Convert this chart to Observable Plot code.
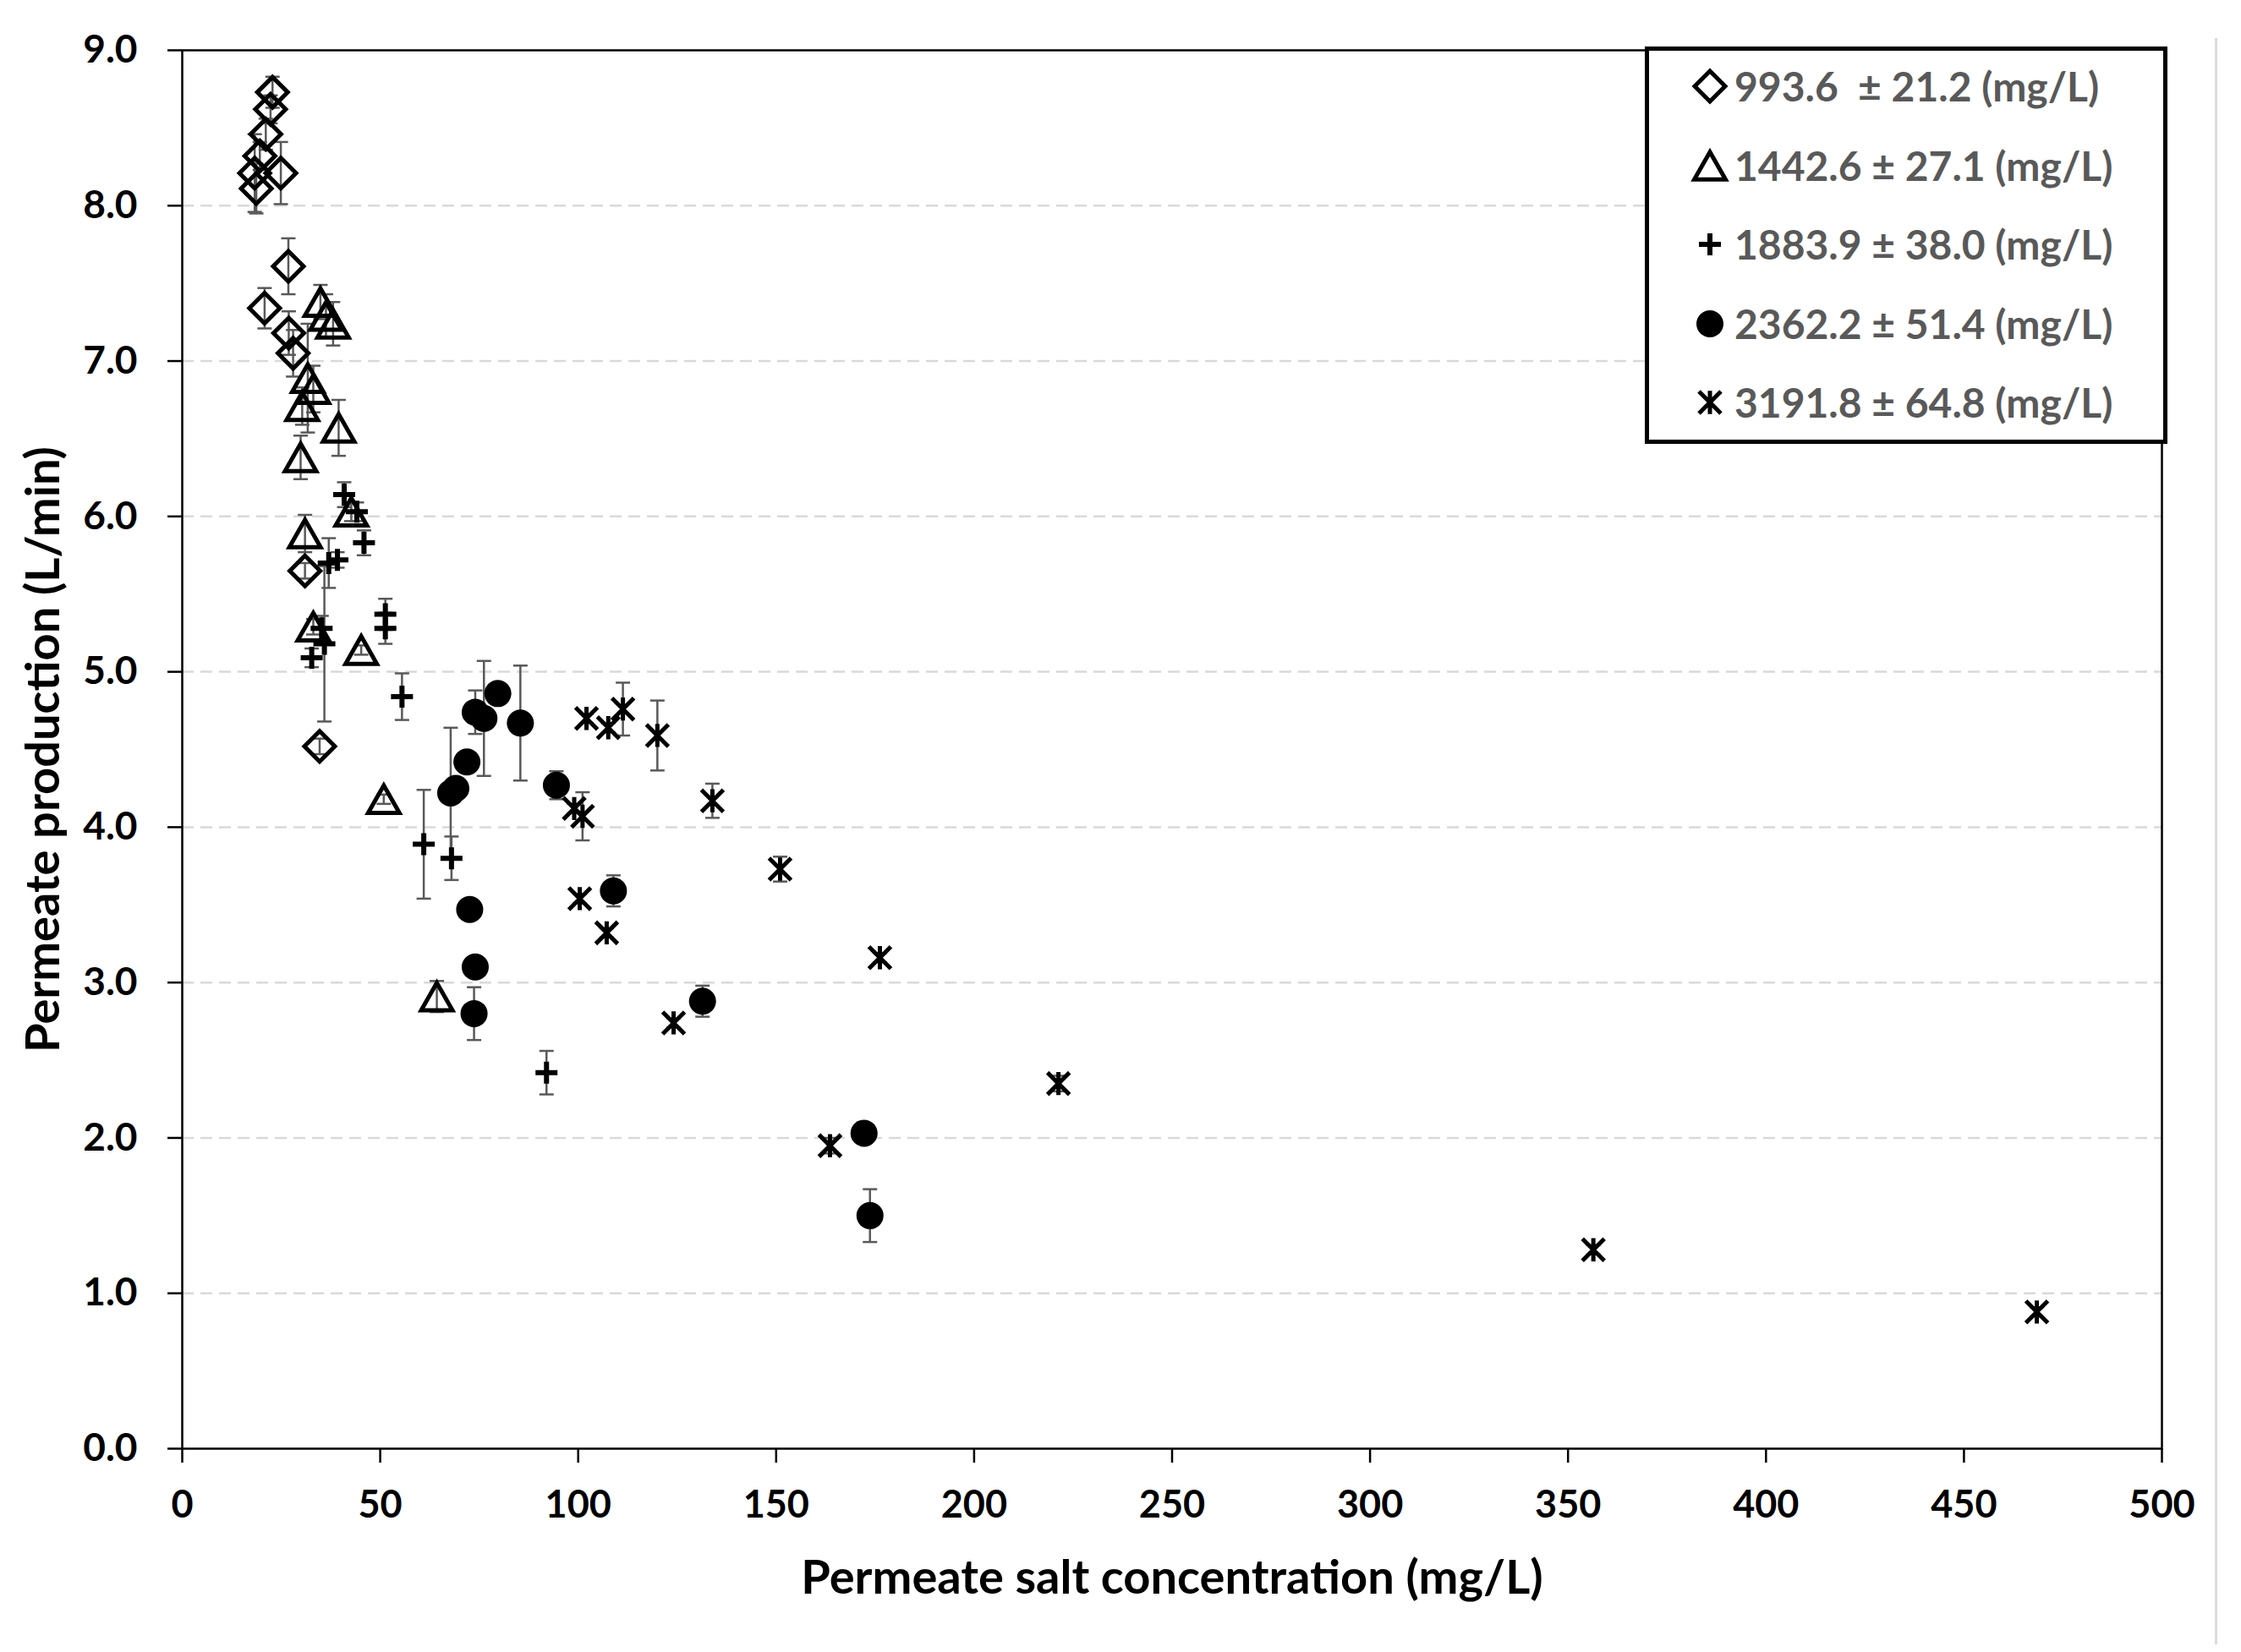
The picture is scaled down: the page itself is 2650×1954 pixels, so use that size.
<!DOCTYPE html>
<html><head><meta charset="utf-8">
<script src="https://cdn.jsdelivr.net/npm/d3@7"></script>
<script src="https://cdn.jsdelivr.net/npm/@observablehq/plot@0.6"></script>
<style>
body{margin:0;background:#fff;}
#wrap{position:relative;width:2650px;height:1954px;background:#fff;font-family:Lato,sans-serif;}
#edge{position:absolute;left:2619px;top:45px;width:3px;height:1900px;background:#dcdcdc;}
#legend{position:absolute;left:1945px;top:55px;width:618px;height:470px;box-sizing:border-box;border:5px solid #000;background:#fff;}
.row{position:absolute;left:0;height:60px;}
.row svg{position:absolute;left:50px;top:8px;overflow:visible;}
.row span{position:absolute;left:101px;top:0;line-height:60px;font-family:Lato,sans-serif;font-weight:bold;font-size:48px;color:#595959;white-space:pre;}
svg [aria-label="x-axis label"] text, svg [aria-label="y-axis label"] text{font-size:56px;}
</style></head>
<body><div id="wrap"><div id="edge"></div></div>
<script>
// ---- data ----
const seriesLabels = ["993.6  \u00b1 21.2 (mg/L)", "1442.6 \u00b1 27.1 (mg/L)", "1883.9 \u00b1 38.0 (mg/L)", "2362.2 \u00b1 51.4 (mg/L)", "3191.8 \u00b1 64.8 (mg/L)"];
const xTicks = [0, 50, 100, 150, 200, 250, 300, 350, 400, 450, 500];
const yTicks = [0, 1, 2, 3, 4, 5, 6, 7, 8, 9];

const diamondX   = [22.8, 22.3, 21.1, 19.6, 18.3, 18.7, 24.9, 26.8, 20.8, 26.9, 28.0, 31.0, 34.7];
const diamondY   = [8.73, 8.62, 8.46, 8.32, 8.21, 8.11, 8.21, 7.61, 7.34, 7.18, 7.05, 5.65, 4.52];
const diamondErr = [0.10, 0.09, 0.10, 0.09, 0.25, 0.16, 0.20, 0.18, 0.13, 0.14, 0.15, 0.05, 0.05];

const triangleX   = [34.9, 36.3, 38.1, 31.7, 33.1, 30.3, 29.9, 39.5, 31.0, 42.7, 33.1, 45.2, 50.9, 64.3];
const triangleY   = [7.38, 7.29, 7.24, 6.89, 6.82, 6.71, 6.38, 6.57, 5.89, 6.03, 5.29, 5.14, 4.18, 2.91];
const triangleErr = [0.11, 0.14, 0.14, 0.35, 0.15, 0.12, 0.14, 0.18, 0.12, 0.06, 0.05, 0.03, 0.03, 0.10];

const plusX   = [40.9, 44.1, 45.9, 37.0, 39.2, 51.3, 51.3, 35.2, 35.9, 32.7, 55.5, 61.0, 68.0, 92.0];
const plusY   = [6.14, 6.03, 5.83, 5.70, 5.72, 5.37, 5.28, 5.28, 5.18, 5.09, 4.84, 3.89, 3.80, 2.42];
const plusErr = [0.08, 0.06, 0.08, 0.16, 0.05, 0.10, 0.10, 0.08, 0.50, 0.06, 0.15, 0.35, 0.14, 0.14];

const circleX   = [79.7, 74.0, 76.2, 85.4, 71.9, 69.1, 67.8, 94.5, 72.6, 74.0, 73.7, 108.9, 131.4, 172.2, 173.7];
const circleY   = [4.86, 4.74, 4.70, 4.67, 4.42, 4.25, 4.22, 4.27, 3.47, 3.10, 2.80, 3.59, 2.88, 2.03, 1.50];
const circleErr = [0.05, 0.14, 0.37, 0.37, 0.05, 0.05, 0.42, 0.09, 0.03, 0.03, 0.17, 0.10, 0.10, 0.04, 0.17];

const starX   = [102.1, 107.6, 111.3, 120.0, 99.0, 101.1, 133.9, 151.0, 100.4, 107.2, 176.2, 124.1, 163.6, 221.3, 356.4, 468.4];
const starY   = [4.70, 4.64, 4.76, 4.59, 4.12, 4.07, 4.17, 3.73, 3.54, 3.32, 3.16, 2.74, 1.95, 2.35, 1.28, 0.88];
const starErr = [0.03, 0.03, 0.17, 0.225, 0.03, 0.155, 0.11, 0.08, 0.03, 0.03, 0.03, 0.03, 0.05, 0.05, 0.03, 0.03];

// ---- symbols ----
const shapes = {
  diamond: (c, r) => { c.moveTo(0, -r); c.lineTo(r, 0); c.lineTo(0, r); c.lineTo(-r, 0); c.closePath(); },
  triangle: (c, r) => { const h = r * 0.88; c.moveTo(0, -h); c.lineTo(r, h); c.lineTo(-r, h); c.closePath(); },
  plus: (c, r) => { c.moveTo(-r, 0); c.lineTo(r, 0); c.moveTo(0, -r); c.lineTo(0, r); },
  star: (c, r) => { c.moveTo(-r, -r); c.lineTo(r, r); c.moveTo(-r, r); c.lineTo(r, -r); c.moveTo(0, -r * 1.05); c.lineTo(0, r * 1.05); },
  cap: (c, r) => { c.moveTo(-r, 0); c.lineTo(r, 0); }
};
const asSymbol = f => ({draw(ctx, size) { f(ctx, Math.sqrt(size / Math.PI)); }});

const series = [
  {key: "diamond", xs: diamondX, ys: diamondY, es: diamondErr, r: 18, sw: 5, filled: false},
  {key: "triangle", xs: triangleX, ys: triangleY, es: triangleErr, r: 18.5, sw: 5, filled: false},
  {key: "plus", xs: plusX, ys: plusY, es: plusErr, r: 13, sw: 6, filled: false},
  {key: "circle", xs: circleX, ys: circleY, es: circleErr, r: 16, sw: 0, filled: true},
  {key: "star", xs: starX, ys: starY, es: starErr, r: 13, sw: 5, filled: false}
];
const rows = series.flatMap((s, i) => s.xs.map((x, j) => ({x, y: s.ys[j], err: s.es[j], series: i})));

const capSym = asSymbol(shapes.cap);
const errStroke = "#595959";

const markMarks = series.map((s, i) => s.filled
  ? Plot.dot(rows.filter(d => d.series === i), {x: "x", y: "y", r: s.r, fill: "black", stroke: "none"})
  : Plot.dot(rows.filter(d => d.series === i), {x: "x", y: "y", r: s.r, symbol: asSymbol(shapes[s.key]), fill: "none", stroke: "black", strokeWidth: s.sw, strokeLinejoin: "miter", strokeLinecap: "butt"})
);

const chart = Plot.plot({
  width: 2650, height: 1954,
  marginLeft: 215, marginRight: 94, marginTop: 59, marginBottom: 241,
  style: {fontFamily: "Lato, sans-serif", fontSize: "44px", fontWeight: "bold", color: "black", background: "transparent"},
  x: {domain: [0, 500]},
  y: {domain: [0, 9]},
  marks: [
    Plot.gridY(yTicks.filter(d => d > 0 && d < 9), {stroke: "#d9d9d9", strokeOpacity: 1, strokeWidth: 2.5, strokeDasharray: "14,8"}),
    Plot.frame({stroke: "black", strokeWidth: 2.5}),
    Plot.axisX(xTicks, {tickSize: 17, tickPadding: 33, strokeWidth: 2.5, tickFormat: d => String(d), fontSize: 45,
      label: "Permeate salt concentration (mg/L)", labelAnchor: "center", labelOffset: 171, labelArrow: "none"}),
    Plot.axisY(yTicks, {tickSize: 17, tickPadding: 36, strokeWidth: 2.5, tickFormat: d3.format(".1f"), fontSize: 46,
      label: "Permeate production (L/min)", labelAnchor: "center", labelOffset: 185, labelArrow: "none"}),
    Plot.ruleX(rows, {x: "x", y1: d => d.y - d.err, y2: d => d.y + d.err, stroke: errStroke, strokeWidth: 2.5}),
    Plot.dot(rows, {x: "x", y: d => d.y + d.err, symbol: capSym, r: 8.5, stroke: errStroke, strokeWidth: 2.5, fill: "none"}),
    Plot.dot(rows, {x: "x", y: d => d.y - d.err, symbol: capSym, r: 8.5, stroke: errStroke, strokeWidth: 2.5, fill: "none"}),
    ...markMarks
  ]
});
const wrap = document.getElementById("wrap");
chart.style.position = "absolute";
chart.style.left = "0";
chart.style.top = "0";
wrap.appendChild(chart);

// ---- legend ----
const legend = document.createElement("div");
legend.id = "legend";
series.forEach((s, i) => {
  const row = document.createElement("div");
  row.className = "row";
  row.style.top = (12 + i * 93.5) + "px";
  const ns = "http://www.w3.org/2000/svg";
  const svg = document.createElementNS(ns, "svg");
  svg.setAttribute("width", 44); svg.setAttribute("height", 44);
  svg.setAttribute("viewBox", "-22 -22 44 44");
  if (s.filled) {
    const c = document.createElementNS(ns, "circle");
    c.setAttribute("r", s.r); c.setAttribute("fill", "black");
    svg.appendChild(c);
  } else {
    const p = d3.path(); shapes[s.key](p, s.r);
    const path = document.createElementNS(ns, "path");
    path.setAttribute("d", p.toString());
    path.setAttribute("fill", "none"); path.setAttribute("stroke", "black");
    path.setAttribute("stroke-width", s.sw); path.setAttribute("stroke-linejoin", "miter");
    svg.appendChild(path);
  }
  row.appendChild(svg);
  const span = document.createElement("span");
  span.textContent = seriesLabels[i];
  row.appendChild(span);
  legend.appendChild(row);
});
wrap.appendChild(legend);
</script>
</body></html>
